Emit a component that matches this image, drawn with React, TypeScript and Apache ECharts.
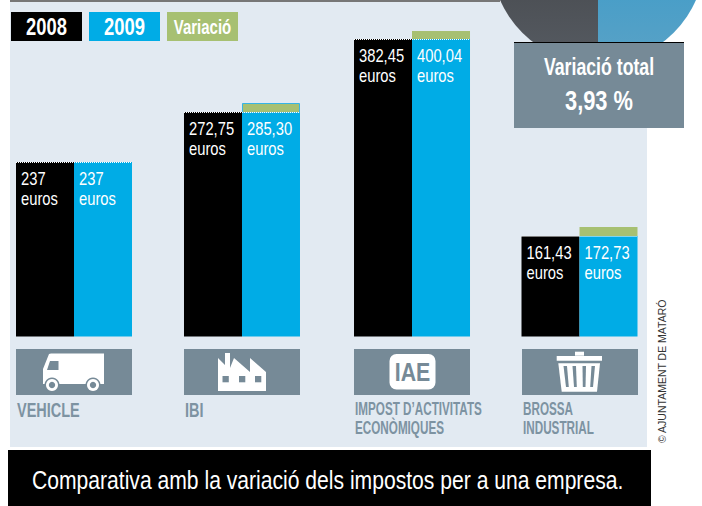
import React, { useEffect, useRef } from "react";
import * as echarts from "echarts";

const categories = ["VEHICLE", "IBI", "IMPOST D\u2019ACTIVITATS\nECONÒMIQUES", "BROSSA\nINDUSTRIAL"];
const labels2008 = ["237", "272,75", "382,45", "161,43"];
const labels2009 = ["237", "285,30", "400,04", "172,73"];
// The source graphic is not drawn to a linear scale: these are the bar heights.
const drawn2008 = [174.5, 224.5, 297.5, 100.5];
const drawn2009 = [174.5, 224.5, 297.5, 100.5];
const drawnVariation = [0, 9, 8, 9];
const slots = [0, 0.997, 2.006, 3];
const legendNames = ["2008", "2009", "Variació"];
const pieNames = ["2008", "2009"];
const pieValues = [1, 1];

const SANS = '"Liberation Sans", sans-serif';
const BLACK = "#000000";
const BLUE = "#00ace6";
const GREEN = "#a7c072";
const PANEL = "#e2eaf2";
const SLATE = "#768a97";
const LABEL = "#7d93a2";

const BAND = 168.5;
const FIRST_CENTRE = 74;
const TILE_W = 116;
const TILE_TOP = 13;
const TILE_H = 46;

function poly(points: number[][], fill: string) {
  return { type: "polygon", shape: { points }, style: { fill } };
}
function rect(x: number, y: number, width: number, height: number, fill: string, r = 0) {
  return { type: "rect", shape: { x, y, width, height, r }, style: { fill } };
}
function circle(cx: number, cy: number, r: number, fill: string) {
  return { type: "circle", shape: { cx, cy, r }, style: { fill } };
}

function icon(i: number): any[] {
  if (i === 0) {
    return [
      poly([[27, 20], [33, 5], [35, 4.5], [88, 4.5], [88, 35], [27, 35]], "#fff"),
      poly([[34, 12], [42.5, 12], [42.5, 21], [31, 21]], SLATE),
      circle(36, 36, 7.5, SLATE),
      circle(77, 36, 7.5, SLATE),
      circle(36, 36, 6, "#fff"),
      circle(77, 36, 6, "#fff"),
      circle(36, 36, 3.2, SLATE),
      circle(77, 36, 3.2, SLATE),
    ];
  }
  if (i === 1) {
    return [
      poly([[34, 42], [34, 9], [41, 16], [41, 4], [46, 4], [46, 19], [50, 9], [66, 23], [66, 9], [82, 23], [82, 42]], "#fff"),
      rect(38.5, 27, 6.3, 6.3, SLATE),
      rect(55, 27, 6.3, 6.3, SLATE),
      rect(71, 27, 6.3, 6.3, SLATE),
    ];
  }
  if (i === 2) {
    return [
      rect(35.5, 5, 46, 35.5, "#fff", 7),
      {
        type: "text", x: 58.5, y: 23, scaleX: 0.82,
        style: {
          text: "IAE", align: "center", verticalAlign: "middle",
          fill: SLATE, font: `bold 26px ${SANS}`,
        },
      },
    ];
  }
  return [
    rect(53, 2.7, 9, 4, "#fff"),
    rect(34.7, 7, 45.3, 4.7, "#fff"),
    poly([[36.3, 14.3], [78, 14.3], [75, 42.7], [39.7, 42.7]], "#fff"),
    poly([[41.5, 17], [45, 17], [46.8, 38], [44, 38]], SLATE),
    poly([[50.5, 17], [54, 17], [54.8, 38], [52, 38]], SLATE),
    poly([[60.5, 17], [64, 17], [63.5, 38], [60.8, 38]], SLATE),
    poly([[69.5, 17], [73, 17], [71, 38], [68.2, 38]], SLATE),
  ];
}

function legendItems() {
  const fills = [BLACK, BLUE, GREEN];
  const lefts = [11, 89, 167];
  const fonts = [`bold 24.5px ${SANS}`, `bold 24.5px ${SANS}`, `bold 20px ${SANS}`];
  const out: any[] = [];
  legendNames.forEach((name, i) => {
    out.push({ type: "rect", z: 5, shape: { x: lefts[i], y: 12, width: 71, height: 29 }, style: { fill: fills[i] } });
    out.push({
      type: "text", z: 6, x: lefts[i] + 35.5, y: 27, scaleX: 0.75,
      style: { text: name, fill: "#fff", font: fonts[i], align: "center", verticalAlign: "middle" },
    });
  });
  return out;
}

function valueLabel(names: string[], offset: number) {
  return (params: any, api: any) => {
    const i = params.dataIndex;
    const [cx, cy] = api.coord([slots[i], api.value(1)]);
    return {
      type: "text", x: cx + offset, y: cy + 6, scaleX: 0.82,
      style: {
        text: `${names[i]}\neuros`, fill: "#fff", font: `18px ${SANS}`, lineHeight: 20,
        align: "left", verticalAlign: "top",
      },
    };
  };
}

export default function App() {
  const ref = useRef<HTMLDivElement>(null);
  useEffect(() => {
    const chart = echarts.init(ref.current!, undefined, { renderer: "svg" });
    const points = (vals: number[]) => vals.map((v, i) => [slots[i], v]);
    chart.setOption({
      animation: false,
      backgroundColor: "#fff",
      grid: { left: 0, width: 702, top: 0, height: 336.5 },
      xAxis: { type: "value", min: -FIRST_CENTRE / BAND, max: (702 - FIRST_CENTRE) / BAND, show: false },
      yAxis: { type: "value", min: 0, max: 336.5, show: false },
      series: [
        {
          type: "pie", name: "Total", center: [598, -43], radius: [0, 107], startAngle: 90, clockwise: true,
          label: { show: false }, labelLine: { show: false }, silent: true, z: 1,
          data: [
            {
              name: pieNames[1], value: pieValues[1],
              itemStyle: { color: new echarts.graphic.LinearGradient(0, 0, 0, 1, [{ offset: 0.5, color: "#3f9cc9" }, { offset: 1, color: "#5aa2c6" }]) },
            },
            {
              name: pieNames[0], value: pieValues[0],
              itemStyle: { color: new echarts.graphic.LinearGradient(0, 0, 0, 1, [{ offset: 0.5, color: "#474a4e" }, { offset: 1, color: "#565b62" }]) },
            },
          ],
        },
        {
          type: "bar", name: "2008", barWidth: 58, barGap: 0, data: points(drawn2008),
          itemStyle: { color: BLACK },
        },
        {
          type: "bar", name: "2009", barWidth: 58, data: points(drawn2009),
          itemStyle: { color: BLUE },
        },
        {
          type: "custom", name: "Variació", silent: true, z: 3,
          data: drawnVariation.map((v, i) => [slots[i], v, drawn2009[i]]),
          renderItem: (params: any, api: any) => {
            const v = api.value(1);
            if (!v) return null;
            const base = api.value(2);
            const [cx, y0] = api.coord([api.value(0), base]);
            const [, y1] = api.coord([api.value(0), base + v]);
            const outlined = params.dataIndex === 1;
            return {
              type: "rect",
              shape: { x: cx + (outlined ? 0.5 : 0), y: y1 + (outlined ? 0.5 : 0), width: outlined ? 57 : 58, height: y0 - y1 },
              style: outlined ? { fill: GREEN, stroke: "#35b4e6", lineWidth: 1 } : { fill: GREEN },
            };
          },
        },
        {
          type: "custom", name: "top rule", silent: true, z: 5,
          data: points(drawn2008),
          renderItem: (_: any, api: any) => {
            const [cx, cy] = api.coord([api.value(0), api.value(1)]);
            return {
              type: "line",
              shape: { x1: cx - 58, y1: cy + 0.5, x2: cx + 58, y2: cy + 0.5 },
              style: { stroke: "#fff", lineWidth: 1, lineDash: [1, 1] },
            };
          },
        },
        { type: "custom", name: "labels 2008", silent: true, z: 6, data: points(drawn2008), renderItem: valueLabel(labels2008, -53) },
        { type: "custom", name: "labels 2009", silent: true, z: 6, data: points(drawn2009), renderItem: valueLabel(labels2009, 5) },
        {
          type: "custom", name: "tiles", silent: true, z: 4, clip: false,
          data: categories.map((_, i) => [slots[i], 0]),
          renderItem: (params: any, api: any) => {
            const i = params.dataIndex;
            const [cx, cy] = api.coord([slots[i], 0]);
            const small = categories[i].includes("\n");
            return {
              type: "group",
              x: Math.round(cx - 58),
              y: Math.round(cy) + TILE_TOP - 1,
              children: [
                rect(0, 0, TILE_W, TILE_H, SLATE),
                ...icon(i),
                {
                  type: "text", x: 1, y: small ? 50.5 : 52, scaleX: small ? 0.65 : 0.69,
                  style: {
                    text: categories[i], align: "left", verticalAlign: "top",
                    fill: LABEL, font: `bold ${small ? 18 : 21}px ${SANS}`, lineHeight: 18.5,
                  },
                },
              ],
            };
          },
        },
      ],
      graphic: {
        elements: [
          { type: "rect", z: -5, shape: { x: 10, y: 2, width: 637, height: 445 }, style: { fill: PANEL } },
          { type: "rect", z: 6, shape: { x: 10, y: 0, width: 490, height: 2 }, style: { fill: "#777" } },
          { type: "rect", z: 6, shape: { x: 8, y: 450, width: 643, height: 56 }, style: { fill: BLACK } },
          {
            type: "text", z: 7, x: 32, y: 480, scaleX: 0.845,
            style: {
              text: "Comparativa amb la variació dels impostos per a una empresa.",
              fill: "#fff", font: `25px ${SANS}`, align: "left", verticalAlign: "middle",
            },
          },
          { type: "rect", z: 8, shape: { x: 514, y: 42, width: 170, height: 86 }, style: { fill: SLATE } },
          { type: "rect", z: 9, shape: { x: 514, y: 42, width: 170, height: 1 }, style: { fill: BLACK } },
          {
            type: "text", z: 9, x: 599, y: 67, scaleX: 0.77,
            style: { text: "Variació total", fill: "#fff", font: `bold 23px ${SANS}`, align: "center", verticalAlign: "middle" },
          },
          {
            type: "text", z: 9, x: 599, y: 100, scaleX: 0.78,
            style: { text: "3,93 %", fill: "#fff", font: `bold 28px ${SANS}`, align: "center", verticalAlign: "middle" },
          },
          {
            type: "text", z: 9, x: 662, y: 443, rotation: Math.PI / 2,
            style: { text: "© AJUNTAMENT DE MATARÓ", fill: "#333", font: `10.5px ${SANS}`, align: "left", verticalAlign: "middle" },
          },
          ...legendItems(),
        ],
      },
    });
    return () => chart.dispose();
  }, []);
  return <div ref={ref} style={{ position: "fixed", left: 0, top: 0, width: 702, height: 506 }} />;
}
